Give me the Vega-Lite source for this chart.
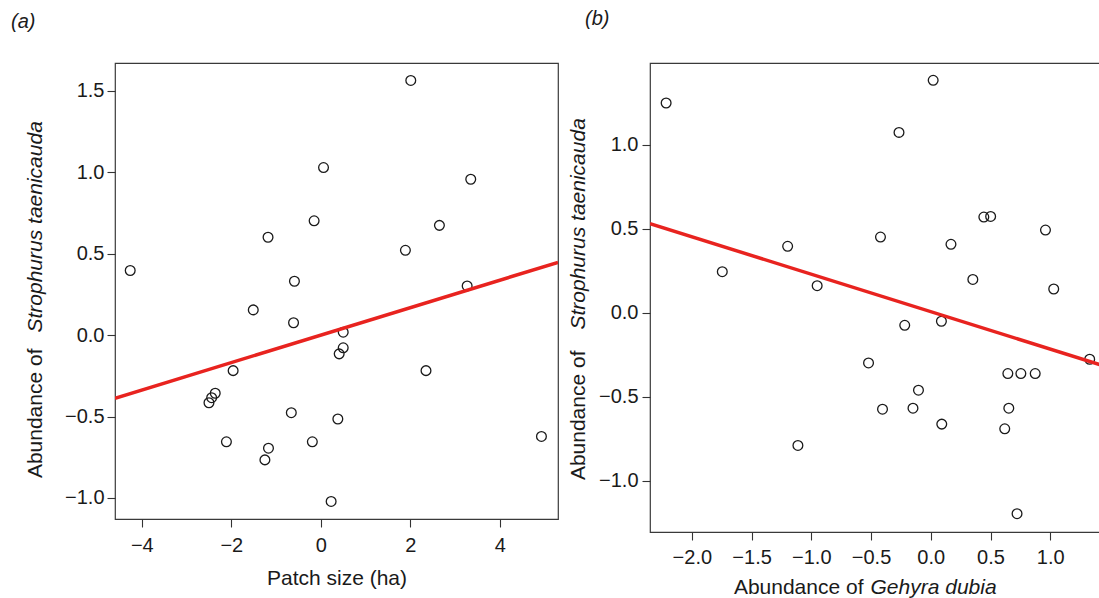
{
  "$schema": "https://vega.github.io/schema/vega-lite/v6.json",
  "background": "white",
  "padding": {"left": 10, "top": 8, "right": 0, "bottom": 0},
  "spacing": 7,
  "config": {
    "view": {"stroke": "#3a3a3a", "strokeWidth": 1.2},
    "font": "Liberation Sans",
    "axis": {"grid": false, "domain": false, "tickSize": 8, "tickColor": "#333333", "tickWidth": 1.1, "labelFont": "Liberation Sans", "labelFontSize": 20, "labelColor": "#1a1a1a", "titleFont": "Liberation Sans", "titleFontSize": 21, "titleFontWeight": "normal", "titleColor": "#1a1a1a"},
    "title": {"font": "Liberation Sans", "fontSize": 20, "fontWeight": "normal", "fontStyle": "italic", "color": "#1a1a1a", "anchor": "start", "frame": "group"}
  },
  "datasets": {
    "a": [
      {"x": 2.01, "y": 1.564}, {"x": 0.06, "y": 1.029}, {"x": 3.35, "y": 0.957}, {"x": -0.15, "y": 0.702},
      {"x": -1.18, "y": 0.601}, {"x": 2.65, "y": 0.674}, {"x": 1.89, "y": 0.521}, {"x": -4.26, "y": 0.397},
      {"x": -0.59, "y": 0.331}, {"x": 3.27, "y": 0.302}, {"x": -1.51, "y": 0.155}, {"x": -0.61, "y": 0.076},
      {"x": 0.5, "y": 0.018}, {"x": 0.5, "y": -0.078}, {"x": 0.41, "y": -0.115}, {"x": -1.96, "y": -0.218},
      {"x": 2.35, "y": -0.218}, {"x": -2.36, "y": -0.357}, {"x": -2.44, "y": -0.384}, {"x": -2.5, "y": -0.415},
      {"x": -0.66, "y": -0.476}, {"x": 0.38, "y": -0.515}, {"x": 4.93, "y": -0.622}, {"x": -2.11, "y": -0.655},
      {"x": -0.19, "y": -0.655}, {"x": -1.17, "y": -0.694}, {"x": -1.25, "y": -0.766}, {"x": 0.23, "y": -1.021}
    ],
    "b": [
      {"x": -2.215, "y": 1.248}, {"x": 0.02, "y": 1.383}, {"x": -0.266, "y": 1.073}, {"x": 0.444, "y": 0.569},
      {"x": 0.501, "y": 0.573}, {"x": 0.96, "y": 0.492}, {"x": -0.421, "y": 0.45}, {"x": -1.198, "y": 0.395},
      {"x": 0.169, "y": 0.407}, {"x": -1.745, "y": 0.244}, {"x": 0.352, "y": 0.198}, {"x": -0.951, "y": 0.161},
      {"x": 1.029, "y": 0.141}, {"x": -0.218, "y": -0.075}, {"x": 0.089, "y": -0.051}, {"x": 1.33, "y": -0.277},
      {"x": -0.521, "y": -0.299}, {"x": 0.645, "y": -0.362}, {"x": 0.754, "y": -0.362}, {"x": 0.874, "y": -0.362},
      {"x": -0.103, "y": -0.461}, {"x": -0.404, "y": -0.574}, {"x": -0.149, "y": -0.568}, {"x": 0.653, "y": -0.568},
      {"x": 0.092, "y": -0.663}, {"x": 0.619, "y": -0.691}, {"x": -1.112, "y": -0.79}, {"x": 0.722, "y": -1.196}
    ],
    "fit_a": [{"x": -4.6, "y": -0.388}, {"x": 5.3, "y": 0.447}],
    "fit_b": [{"x": -2.35, "y": 0.53}, {"x": 1.5, "y": -0.328}]
  },
  "hconcat": [
    {
      "title": {"text": "(a)", "dx": -104, "offset": 31},
      "width": 443,
      "height": 456,
      "layer": [
        {
          "data": {"name": "a"},
          "mark": {"type": "point", "shape": "circle", "filled": false, "size": 95, "stroke": "#1a1a1a", "strokeWidth": 1.3, "opacity": 1},
          "encoding": {
            "x": {"field": "x", "type": "quantitative", "scale": {"domain": [-4.6, 5.3], "nice": false, "zero": false},
              "axis": {"values": [-4, -2, 0, 2, 4], "format": "d", "labelPadding": 8, "title": "Patch size (ha)", "titleY": 59, "titleBaseline": "middle"}},
            "y": {"field": "y", "type": "quantitative", "scale": {"domain": [-1.129, 1.671], "nice": false, "zero": false},
              "axis": {"orient": "left", "values": [-1, -0.5, 0, 0.5, 1, 1.5], "format": ".1f", "labelPadding": 3, "title": "Abundance of", "titleX": -80, "titleY": 285, "titleAlign": "right", "titleBaseline": "middle", "titleAngle": 270}}
          }
        },
        {
          "data": {"name": "fit_a"},
          "mark": {"type": "line", "color": "#e8231f", "strokeWidth": 3.5, "clip": true},
          "encoding": {
            "x": {"field": "x", "type": "quantitative", "scale": {"domain": [-4.6, 5.3], "nice": false, "zero": false}},
            "y": {"field": "y", "type": "quantitative", "scale": {"domain": [-1.129, 1.671], "nice": false, "zero": false},
              "axis": {"orient": "left", "labels": false, "ticks": false, "domain": false, "title": "Strophurus taenicauda", "titleFontStyle": "italic", "titleX": -80, "titleY": 269, "titleAlign": "left", "titleBaseline": "middle", "titleAngle": 270}}
          }
        }
      ],
      "resolve": {"scale": {"y": "independent"}}
    },
    {
      "title": {"text": "(b)", "dx": -65, "offset": 34},
      "width": 460,
      "height": 469,
      "layer": [
        {
          "data": {"name": "b"},
          "mark": {"type": "point", "shape": "circle", "filled": false, "size": 95, "stroke": "#1a1a1a", "strokeWidth": 1.3, "opacity": 1},
          "encoding": {
            "x": {"field": "x", "type": "quantitative", "scale": {"domain": [-2.35, 1.5], "nice": false, "zero": false},
              "axis": {"values": [-2, -1.5, -1, -0.5, 0, 0.5, 1], "format": ".1f", "labelPadding": 7, "title": "Abundance of", "titleX": 213, "titleY": 55, "titleAlign": "right", "titleBaseline": "middle"}},
            "y": {"field": "y", "type": "quantitative", "scale": {"domain": [-1.305, 1.486], "nice": false, "zero": false},
              "axis": {"orient": "left", "values": [-1, -0.5, 0, 0.5, 1], "format": ".1f", "labelPadding": 4, "title": "Abundance of", "titleX": -72, "titleY": 287, "titleAlign": "right", "titleBaseline": "middle", "titleAngle": 270}}
          }
        },
        {
          "data": {"name": "fit_b"},
          "mark": {"type": "line", "color": "#e8231f", "strokeWidth": 3.5, "clip": true},
          "encoding": {
            "x": {"field": "x", "type": "quantitative", "scale": {"domain": [-2.35, 1.5], "nice": false, "zero": false},
              "axis": {"orient": "bottom", "labels": false, "ticks": false, "domain": false, "title": "Gehyra dubia", "titleFontStyle": "italic", "titleX": 220, "titleY": 55, "titleAlign": "left", "titleBaseline": "middle"}},
            "y": {"field": "y", "type": "quantitative", "scale": {"domain": [-1.305, 1.486], "nice": false, "zero": false},
              "axis": {"orient": "left", "labels": false, "ticks": false, "domain": false, "title": "Strophurus taenicauda", "titleFontStyle": "italic", "titleX": -72, "titleY": 266, "titleAlign": "left", "titleBaseline": "middle", "titleAngle": 270}}
          }
        }
      ],
      "resolve": {"scale": {"x": "independent", "y": "independent"}}
    }
  ]
}
